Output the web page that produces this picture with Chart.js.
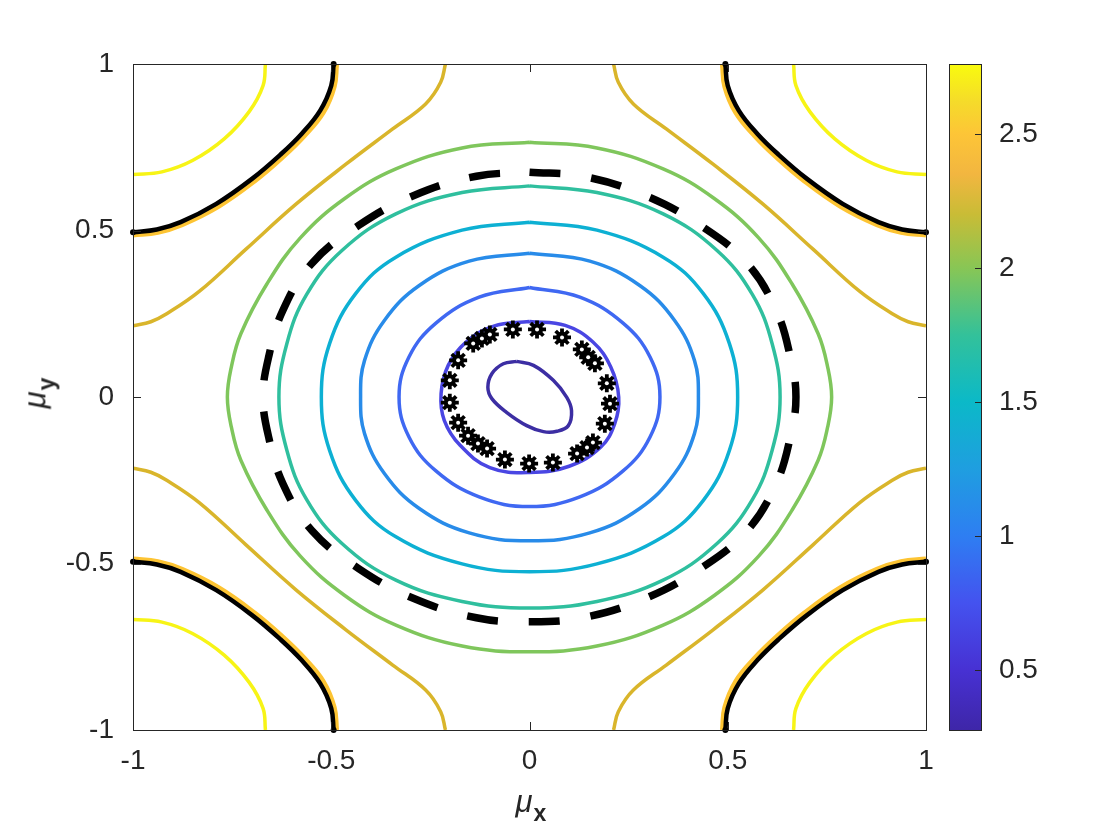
<!DOCTYPE html>
<html>
<head>
<meta charset="utf-8">
<script src="https://cdn.jsdelivr.net/npm/chart.js@4.4.1/dist/chart.umd.min.js"></script>
<style>
body { margin: 0; background: #fff; }
#wrap { position: relative; width: 1120px; height: 840px; }
.lab { position: absolute; font-family: 'Liberation Sans', Arial, sans-serif; color: #262626; font-size: 31px; white-space: nowrap; line-height: 1; }
.lab i { font-style: italic; }
.lab sub { font-size: 23px; font-weight: bold; vertical-align: -0.4em; margin-left: 1px; }
#xlab { left: 531px; top: 806px; transform: translate(-50%, -50%); }
#ylab { left: 39px; top: 393px; transform: translate(-50%, -50%) rotate(-90deg); }
</style>
</head>
<body>
<div id="wrap">
  <canvas id="contourChart" width="1120" height="840"></canvas>
  <div class="lab" id="xlab"><i>μ</i><sub>x</sub></div>
  <div class="lab" id="ylab"><i>μ</i><sub>y</sub></div>
</div>
<script>
// axis ticks
const axisTicks = [-1, -0.5, 0, 0.5, 1];
const cbTicks = [0.5, 1, 1.5, 2, 2.5];
const cbMin = 0.276, cbMax = 2.761;
// colorbar (parula)
const cbStops = [0.276, 0.5, 0.75, 1.0, 1.25, 1.5, 1.75, 2.0, 2.2, 2.35, 2.5, 2.62, 2.761];
const cbColors = ['#3e26a8', '#4731d3', '#4452ef', '#2e7ef2', '#1f9ee0', '#0bb9c8', '#33c19a',
                  '#88c655', '#c9bc36', '#f2b640', '#fdc537', '#f5db2a', '#f9fb0e'];

// closed contours around the centre
const innerLoop = [[-0.032,0.107],[0.010,0.095],[0.060,0.050],[0.094,-0.001],[0.106,-0.041],[0.098,-0.086],
  [0.069,-0.103],[0.035,-0.104],[-0.007,-0.086],[-0.058,-0.046],[-0.095,-0.005],[-0.105,0.029],
  [-0.095,0.070],[-0.066,0.100],[-0.032,0.107]];
const starLoop = [[0,0.227],[0.09,0.215],[0.160,0.165],[0.205,0.09],[0.225,0],[0.215,-0.08],[0.180,-0.150],
  [0.10,-0.208],[0,-0.227],[-0.10,-0.212],[-0.175,-0.145],[-0.215,-0.07],[-0.223,0.01],[-0.205,0.095],
  [-0.160,0.165],[-0.09,0.213],[0,0.227]];
const blueLoop = [[0,0.329],[0.127,0.300],[0.236,0.222],[0.304,0.120],[0.329,0],
  [0.304,-0.120],[0.236,-0.222],[0.127,-0.300],[0,-0.329],
  [-0.127,-0.300],[-0.236,-0.222],[-0.304,-0.120],[-0.329,0],
  [-0.304,0.120],[-0.236,0.222],[-0.127,0.300],[0,0.329]];
const lightBlueLoop = [[0,0.432],[0.152,0.408],[0.278,0.335],[0.366,0.230],[0.416,0.110],[0.426,0],
  [0.416,-0.110],[0.366,-0.230],[0.278,-0.335],[0.152,-0.408],[0,-0.432],
  [-0.152,-0.408],[-0.278,-0.335],[-0.366,-0.230],[-0.416,-0.110],[-0.426,0],
  [-0.416,0.110],[-0.366,0.230],[-0.278,0.335],[-0.152,0.408],[0,0.432]];
const cyanLoop = [[0,0.525],[0.170,0.501],[0.337,0.420],[0.438,0.311],[0.504,0.161],[0.525,0],
  [0.504,-0.161],[0.438,-0.311],[0.337,-0.420],[0.170,-0.501],[0,-0.525],
  [-0.170,-0.501],[-0.337,-0.420],[-0.438,-0.311],[-0.504,-0.161],[-0.525,0],
  [-0.504,0.161],[-0.438,0.311],[-0.337,0.420],[-0.170,0.501],[0,0.525]];
const tealLoop = [[0,0.634],[0.170,0.614],[0.337,0.550],[0.473,0.440],[0.562,0.308],[0.612,0.160],[0.632,0],
  [0.612,-0.160],[0.562,-0.308],[0.473,-0.440],[0.337,-0.550],[0.170,-0.614],[0,-0.634],
  [-0.170,-0.614],[-0.337,-0.550],[-0.473,-0.440],[-0.562,-0.308],[-0.612,-0.160],[-0.632,0],
  [-0.612,0.160],[-0.562,0.308],[-0.473,0.440],[-0.337,0.550],[-0.170,0.614],[0,0.634]];
const dashedLoop = [[0,0.675],[0.134,0.663],[0.290,0.606],[0.430,0.516],[0.549,0.401],[0.622,0.260],[0.657,0.125],[0.672,0],
  [0.657,-0.125],[0.622,-0.260],[0.549,-0.401],[0.430,-0.516],[0.290,-0.606],[0.134,-0.663],[0,-0.675],
  [-0.134,-0.663],[-0.290,-0.606],[-0.430,-0.516],[-0.549,-0.401],[-0.622,-0.260],[-0.657,-0.125],[-0.672,0],
  [-0.657,0.125],[-0.622,0.260],[-0.549,0.401],[-0.430,0.516],[-0.290,0.606],[-0.134,0.663],[0,0.675]];
const greenLoop = [[0,0.765],[0.170,0.748],[0.337,0.685],[0.466,0.596],[0.578,0.478],[0.662,0.340],[0.728,0.190],[0.752,0.090],[0.762,0],
  [0.752,-0.090],[0.728,-0.190],[0.662,-0.340],[0.578,-0.478],[0.466,-0.596],[0.337,-0.685],[0.170,-0.748],[0,-0.765],
  [-0.170,-0.748],[-0.337,-0.685],[-0.466,-0.596],[-0.578,-0.478],[-0.662,-0.340],[-0.728,-0.190],[-0.752,-0.090],[-0.762,0],
  [-0.752,0.090],[-0.728,0.190],[-0.662,0.340],[-0.578,0.478],[-0.466,0.596],[-0.337,0.685],[-0.170,0.748],[0,0.765]];

// saddle contours, one per corner
const goldTR = [[0.212,1.0],[0.224,0.945],[0.262,0.880],[0.345,0.805],[0.463,0.699],[0.589,0.579],[0.715,0.444],[0.833,0.317],[0.915,0.250],[0.955,0.226],[1.0,0.214]];
const goldTL = [[-0.212,1.0],[-0.224,0.945],[-0.262,0.880],[-0.345,0.805],[-0.463,0.699],[-0.589,0.579],[-0.715,0.444],[-0.833,0.317],[-0.915,0.250],[-0.955,0.226],[-1.0,0.214]];
const goldBR = [[0.212,-1.0],[0.224,-0.945],[0.262,-0.880],[0.345,-0.805],[0.463,-0.699],[0.589,-0.579],[0.715,-0.444],[0.833,-0.317],[0.915,-0.250],[0.955,-0.226],[1.0,-0.214]];
const goldBL = [[-0.212,-1.0],[-0.224,-0.945],[-0.262,-0.880],[-0.345,-0.805],[-0.463,-0.699],[-0.589,-0.579],[-0.715,-0.444],[-0.833,-0.317],[-0.915,-0.250],[-0.955,-0.226],[-1.0,-0.214]];

const orangeTR = [[0.486,1.0],[0.492,0.932],[0.520,0.853],[0.568,0.783],[0.621,0.721],[0.693,0.648],[0.784,0.572],[0.876,0.517],[0.937,0.494],[1.0,0.486]];
const orangeTL = [[-0.486,1.0],[-0.492,0.932],[-0.520,0.853],[-0.568,0.783],[-0.621,0.721],[-0.693,0.648],[-0.784,0.572],[-0.876,0.517],[-0.937,0.494],[-1.0,0.486]];
const orangeBR = [[0.486,-1.0],[0.492,-0.932],[0.520,-0.853],[0.568,-0.783],[0.621,-0.721],[0.693,-0.648],[0.784,-0.572],[0.876,-0.517],[0.937,-0.494],[1.0,-0.486]];
const orangeBL = [[-0.486,-1.0],[-0.492,-0.932],[-0.520,-0.853],[-0.568,-0.783],[-0.621,-0.721],[-0.693,-0.648],[-0.784,-0.572],[-0.876,-0.517],[-0.937,-0.494],[-1.0,-0.486]];

const blackTR = [[0.494,1.0],[0.500,0.935],[0.528,0.860],[0.575,0.790],[0.628,0.728],[0.700,0.655],[0.790,0.580],[0.880,0.525],[0.940,0.503],[1.0,0.495]];
const blackTL = [[-0.494,1.0],[-0.500,0.935],[-0.528,0.860],[-0.575,0.790],[-0.628,0.728],[-0.700,0.655],[-0.790,0.580],[-0.880,0.525],[-0.940,0.503],[-1.0,0.495]];
const blackBR = [[0.494,-1.0],[0.500,-0.935],[0.528,-0.860],[0.575,-0.790],[0.628,-0.728],[0.700,-0.655],[0.790,-0.580],[0.880,-0.525],[0.940,-0.503],[1.0,-0.495]];
const blackBL = [[-0.494,-1.0],[-0.500,-0.935],[-0.528,-0.860],[-0.575,-0.790],[-0.628,-0.728],[-0.700,-0.655],[-0.790,-0.580],[-0.880,-0.525],[-0.940,-0.503],[-1.0,-0.495]];

const yellowTR = [[0.666,1.0],[0.672,0.935],[0.707,0.857],[0.770,0.775],[0.850,0.710],[0.927,0.676],[1.0,0.668]];
const yellowTL = [[-0.666,1.0],[-0.672,0.935],[-0.707,0.857],[-0.770,0.775],[-0.850,0.710],[-0.927,0.676],[-1.0,0.668]];
const yellowBR = [[0.666,-1.0],[0.672,-0.935],[0.707,-0.857],[0.770,-0.775],[0.850,-0.710],[0.927,-0.676],[1.0,-0.668]];
const yellowBL = [[-0.666,-1.0],[-0.672,-0.935],[-0.707,-0.857],[-0.770,-0.775],[-0.850,-0.710],[-0.927,-0.676],[-1.0,-0.668]];

// star markers on the second contour
const starPts = [[-0.042,0.203],[0.019,0.203],[0.082,0.179],[0.132,0.143],[0.148,0.119],[0.165,0.101],[0.195,0.041],
  [0.203,-0.020],[0.190,-0.080],[0.160,-0.137],[0.145,-0.152],[0.120,-0.170],[0.059,-0.197],[-0.001,-0.200],
  [-0.062,-0.188],[-0.107,-0.155],[-0.130,-0.140],[-0.155,-0.116],[-0.180,-0.077],[-0.201,-0.017],[-0.201,0.050],
  [-0.180,0.110],[-0.142,0.161],[-0.120,0.176],[-0.100,0.188]];

const INK = '#262626';
const FONT = { family: "'Liberation Sans', Arial, sans-serif", size: 28 };

function xy(arr) {
    return arr.map(p => ({ x: p[0], y: p[1] }));
}
function contour(arr, color, width, order) {
    return { data: xy(arr), showLine: true, borderColor: color, borderWidth: width, pointRadius: 0, tension: 0.4, order: order };
}
function endDots(c) {
    return (c.dataIndex === 0 || c.dataIndex === c.dataset.data.length - 1) ? 3 : 0;
}

const datasets = [
    contour(innerLoop, '#3c2ea3', 3.5, 10),
    contour(starLoop, '#4a46e3', 3.5, 10),
    contour(blueLoop, '#3f68f2', 3.5, 10),
    contour(lightBlueLoop, '#288be9', 3.5, 10),
    contour(cyanLoop, '#0db0d3', 3.5, 10),
    contour(tealLoop, '#2fbf9e', 3.5, 10),
    contour(greenLoop, '#7fc65c', 3.5, 10),
    contour(goldTR, '#d9b52b', 3.5, 10),
    contour(goldTL, '#d9b52b', 3.5, 10),
    contour(goldBR, '#d9b52b', 3.5, 10),
    contour(goldBL, '#d9b52b', 3.5, 10),
    contour(yellowTR, '#f7f416', 3.5, 10),
    contour(yellowTL, '#f7f416', 3.5, 10),
    contour(yellowBR, '#f7f416', 3.5, 10),
    contour(yellowBL, '#f7f416', 3.5, 10),
    contour(orangeTR, '#fdc433', 4.5, 6),
    contour(orangeTL, '#fdc433', 4.5, 6),
    contour(orangeBR, '#fdc433', 4.5, 6),
    contour(orangeBL, '#fdc433', 4.5, 6)
];
[blackTR, blackTL, blackBR, blackBL].forEach(b => {
    const d = contour(b, '#000', 4.5, 5);
    d.pointRadius = endDots;
    d.pointBackgroundColor = '#000';
    d.pointBorderWidth = 0;
    d.clip = false;
    datasets.push(d);
});
const dashed = contour(dashedLoop, '#000', 7.5, 4);
dashed.borderDash = [31, 31];
datasets.push(dashed);
// gear-like '*' markers: spokes, body, hole
datasets.push({ data: xy(starPts), showLine: false, pointStyle: 'star', pointRadius: 9, pointBorderWidth: 3.8, pointBorderColor: '#000', order: 2 });
datasets.push({ data: xy(starPts), showLine: false, pointStyle: 'circle', pointRadius: 6, pointBorderWidth: 0, pointBackgroundColor: '#000', order: 1 });
datasets.push({ data: xy(starPts), showLine: false, pointStyle: 'circle', pointRadius: 2, pointBorderWidth: 0, pointBackgroundColor: '#fff', order: 0 });

const frame = {
    id: 'frame',
    afterDatasetsDraw(chart) {
        const c = chart.ctx, a = chart.chartArea;
        const sx = chart.scales.x, sy = chart.scales.y;
        c.save();
        c.strokeStyle = INK;
        c.lineWidth = 1;
        c.strokeRect(Math.round(a.left) + 0.5, Math.round(a.top) + 0.5, Math.round(a.right - a.left), Math.round(a.bottom - a.top));
        c.beginPath();
        axisTicks.forEach(v => {
            const px = Math.round(sx.getPixelForValue(v)) + 0.5;
            c.moveTo(px, a.bottom); c.lineTo(px, a.bottom - 8);
            c.moveTo(px, a.top); c.lineTo(px, a.top + 8);
            const py = Math.round(sy.getPixelForValue(v)) + 0.5;
            c.moveTo(a.left, py); c.lineTo(a.left + 8, py);
            c.moveTo(a.right, py); c.lineTo(a.right - 8, py);
        });
        c.stroke();
        c.restore();
    },
    afterDraw(chart) {
        const c = chart.ctx, s = chart.scales.cb;
        const x0 = 949, w = 32;
        const top = Math.round(s.getPixelForValue(cbMax)), bot = Math.round(s.getPixelForValue(cbMin));
        const g = c.createLinearGradient(0, bot, 0, top);
        cbStops.forEach((v, i) => g.addColorStop((v - cbMin) / (cbMax - cbMin), cbColors[i]));
        c.save();
        c.fillStyle = g;
        c.fillRect(x0, top, w, bot - top);
        c.strokeStyle = INK;
        c.lineWidth = 1;
        c.strokeRect(x0 + 0.5, top + 0.5, w, bot - top);
        c.beginPath();
        cbTicks.forEach(v => {
            const py = Math.round(s.getPixelForValue(v)) + 0.5;
            c.moveTo(x0 + w, py); c.lineTo(x0 + w - 6, py);
        });
        c.stroke();
        c.restore();
    }
};

function noVertPad(s) {
    s.paddingTop = 0;
    s.paddingBottom = 0;
}

const ctx = document.getElementById('contourChart').getContext('2d');
const contourChart = new Chart(ctx, {
    type: 'scatter',
    data: { datasets: datasets },
    options: {
        responsive: false,
        animation: false,
        devicePixelRatio: 1,
        layout: { padding: { top: 64, left: 0, right: 0, bottom: 0 } },
        plugins: { legend: { display: false }, tooltip: { enabled: false } },
        scales: {
            x: {
                type: 'linear', min: -1, max: 1,
                grid: { display: false }, border: { display: false },
                ticks: { stepSize: 0.5, autoSkip: false, maxRotation: 0, padding: 6, color: INK, font: FONT, callback: v => String(v) },
                afterFit: s => { s.height = 110; s.paddingLeft = 0; s.paddingRight = 0; }
            },
            y: {
                type: 'linear', min: -1, max: 1,
                grid: { display: false }, border: { display: false },
                ticks: { stepSize: 0.5, autoSkip: false, padding: 11, color: INK, font: FONT, callback: v => String(v) },
                afterFit: s => { s.width = 133; noVertPad(s); }
            },
            cb: {
                type: 'linear', position: 'right', display: true, min: cbMin, max: cbMax,
                grid: { display: false }, border: { display: false },
                ticks: { padding: 65, color: INK, font: FONT, callback: v => String(v) },
                afterBuildTicks: s => { s.ticks = cbTicks.map(v => ({ value: v })); },
                afterFit: s => { s.width = 194; noVertPad(s); }
            }
        }
    },
    plugins: [frame]
});
</script>
</body>
</html>
